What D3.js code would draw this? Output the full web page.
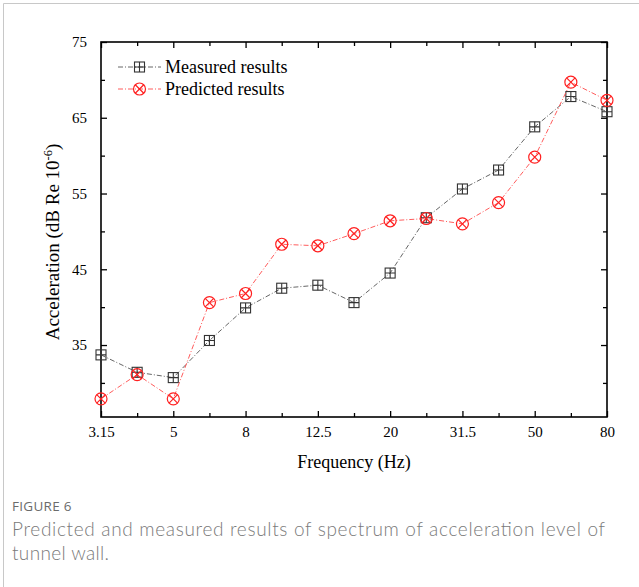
<!DOCTYPE html>
<html>
<head>
<meta charset="utf-8">
<script src="https://cdn.jsdelivr.net/npm/d3@7/dist/d3.min.js"></script>
<style>
  html, body { margin: 0; padding: 0; background: #fff; }
  svg { display: block; }
</style>
</head>
<body>
<svg id="chart" width="639" height="587"></svg>
<script>
// One-third octave band centre frequencies (Hz)
const frequencies = ["3.15", "4", "5", "6.3", "8", "10", "12.5", "16", "20", "25", "31.5", "40", "50", "63", "80"];
// Labelled bands on the frequency axis
const freqTickLabels = ["3.15", "5", "8", "12.5", "20", "31.5", "50", "80"];
// Acceleration level, dB re 1e-6
const measured = [33.7, 31.4, 30.7, 35.6, 39.9, 42.5, 42.9, 40.6, 44.5, 51.8, 55.6, 58.1, 63.8, 67.8, 65.8];
const predicted = [27.9, 31.1, 27.9, 40.6, 41.8, 48.3, 48.1, 49.7, 51.4, 51.7, 51.0, 53.8, 59.8, 69.7, 67.3];
const yMajorTicks = [35, 45, 55, 65, 75];
const yMinorTicks = [30, 40, 50, 60, 70];

const svg = d3.select("#chart");
const serif = "'Liberation Serif', 'Times New Roman', serif";

// Page frame
svg.append("path").attr("d", "M3.5,587 V3.5 H639")
  .attr("fill", "none").attr("stroke", "#c8c8c8").attr("stroke-width", 1);

const plotLeft = 101, plotRight = 607, plotTop = 42, plotBottom = 417;

const x = d3.scalePoint().domain(frequencies).range([plotLeft, plotRight]);
const y = d3.scaleLinear().domain([25.5, 75]).range([plotBottom, plotTop]);

const g = svg.append("g");

// Axes with inward ticks
const isMajor = f => freqTickLabels.includes(f);
const xBottom = d3.axisBottom(x).tickSizeInner(0).tickSizeOuter(0)
  .tickFormat(f => isMajor(f) ? f : "");
const gxb = g.append("g").attr("transform", `translate(0,${plotBottom})`).call(xBottom);
gxb.select(".domain").remove();
gxb.selectAll(".tick line").attr("y2", f => isMajor(f) ? -6 : -4);
gxb.selectAll("text").attr("dy", 0).attr("y", 20)
  .attr("font-family", serif).attr("font-size", 15).attr("fill", "#000");

const gxt = g.append("g").attr("transform", `translate(0,${plotTop})`)
  .call(d3.axisTop(x).tickSizeInner(0).tickSizeOuter(0).tickFormat(""));
gxt.select(".domain").remove();
gxt.selectAll(".tick line").attr("y2", f => isMajor(f) ? 6 : 4);

const gyl = g.append("g").attr("transform", `translate(${plotLeft},0)`)
  .call(d3.axisLeft(y).tickValues(yMajorTicks).tickSizeInner(-6).tickSizeOuter(0).tickPadding(14));
gyl.select(".domain").remove();
gyl.selectAll("text").attr("font-family", serif).attr("font-size", 15).attr("fill", "#000");
g.append("g").attr("transform", `translate(${plotLeft},0)`)
  .call(d3.axisLeft(y).tickValues(yMinorTicks).tickSizeInner(-4).tickSizeOuter(0).tickFormat(""))
  .select(".domain").remove();

const gyr = g.append("g").attr("transform", `translate(${plotRight},0)`)
  .call(d3.axisRight(y).tickValues(yMajorTicks).tickSizeInner(-6).tickSizeOuter(0).tickFormat(""));
gyr.select(".domain").remove();
g.append("g").attr("transform", `translate(${plotRight},0)`)
  .call(d3.axisRight(y).tickValues(yMinorTicks).tickSizeInner(-4).tickSizeOuter(0).tickFormat(""))
  .select(".domain").remove();

g.selectAll(".tick line").attr("stroke", "#000").attr("stroke-width", 1.3);

// Plot frame
g.append("rect").attr("x", plotLeft).attr("y", plotTop)
  .attr("width", plotRight - plotLeft).attr("height", plotBottom - plotTop)
  .attr("fill", "none").attr("stroke", "#000").attr("stroke-width", 1.6);

// Markers
function squarePlus(sel, cx, cy, color) {
  const s = 5;
  sel.append("rect").attr("x", cx - s).attr("y", cy - s).attr("width", 2 * s).attr("height", 2 * s)
    .attr("fill", "none").attr("stroke", color).attr("stroke-width", 1.1);
  sel.append("path").attr("d", `M${cx - s},${cy} H${cx + s} M${cx},${cy - s} V${cy + s}`)
    .attr("stroke", color).attr("stroke-width", 1.1);
}
function circleX(sel, cx, cy, color) {
  const r = 6, d = r * Math.SQRT1_2;
  sel.append("circle").attr("cx", cx).attr("cy", cy).attr("r", r)
    .attr("fill", "none").attr("stroke", color).attr("stroke-width", 1.2);
  sel.append("path").attr("d", `M${cx - d},${cy - d} L${cx + d},${cy + d} M${cx - d},${cy + d} L${cx + d},${cy - d}`)
    .attr("stroke", color).attr("stroke-width", 1.2);
}

const series = [
  { name: "Measured results", values: measured, color: "#333333", line: "#555555", marker: squarePlus },
  { name: "Predicted results", values: predicted, color: "#ff2020", line: "#ff4a4a", marker: circleX }
];

const line = d3.line().x((d, i) => x(frequencies[i])).y(d => y(d));

series.forEach(s => {
  g.append("path").datum(s.values).attr("d", line)
    .attr("fill", "none").attr("stroke", s.line).attr("stroke-width", 0.9)
    .attr("stroke-dasharray", "5,2,1,2");
  const mg = g.append("g");
  s.values.forEach((v, i) => s.marker(mg, x(frequencies[i]), y(v), s.color));
});

// Legend
series.forEach((s, i) => {
  const ly = 67 + i * 22;
  const lg = g.append("g");
  lg.append("line").attr("x1", 118).attr("x2", 161).attr("y1", ly).attr("y2", ly)
    .attr("stroke", s.line).attr("stroke-width", 0.9).attr("stroke-dasharray", "5,2,1,2");
  s.marker(lg, 139.5, ly, s.color);
  lg.append("text").attr("x", 165).attr("y", ly + 6)
    .attr("font-family", serif).attr("font-size", 18).attr("fill", "#000").text(s.name);
});

// Axis titles
svg.append("text").attr("x", (plotLeft + plotRight) / 2).attr("y", 468).attr("text-anchor", "middle")
  .attr("font-family", serif).attr("font-size", 18).attr("fill", "#000").text("Frequency (Hz)");

const yt = svg.append("text").attr("transform", `translate(59,242) rotate(-90)`)
  .attr("text-anchor", "middle").attr("font-family", serif).attr("font-size", 19).attr("fill", "#000");
yt.append("tspan").text("Acceleration (dB Re 10");
yt.append("tspan").attr("dy", -7).attr("font-size", 12.5).text("-6");
yt.append("tspan").attr("dy", 7).text(")");

// Caption
const sans = "'Open Sans', 'Noto Sans', sans-serif";
const captionFont = "Lato, 'Open Sans', sans-serif";
svg.append("text").attr("x", 12).attr("y", 511).attr("font-family", sans).attr("font-size", 13.5)
  .attr("fill", "#6b6b6b").attr("letter-spacing", 0.3).text("FIGURE 6");
svg.append("text").attr("x", 12).attr("y", 536).attr("font-family", captionFont).attr("font-size", 19)
  .attr("font-weight", 300).attr("fill", "#7a7a7a").attr("textLength", 593).attr("lengthAdjust", "spacing")
  .text("Predicted and measured results of spectrum of acceleration level of");
svg.append("text").attr("x", 12).attr("y", 560).attr("font-family", captionFont).attr("font-size", 19)
  .attr("font-weight", 300).attr("fill", "#7a7a7a").attr("textLength", 97).attr("lengthAdjust", "spacing")
  .text("tunnel wall.");
</script>
</body>
</html>
